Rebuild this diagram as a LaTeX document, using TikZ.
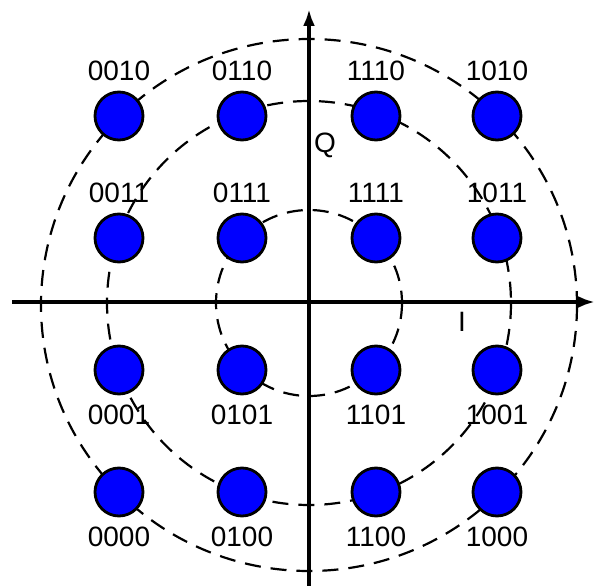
\documentclass[tikz,border=0pt]{standalone}
\usepackage{fontspec}
\setmainfont{Liberation Sans}
\usetikzlibrary{arrows.meta}
\begin{document}
\begin{tikzpicture}[x=1pt,y=-1pt,
  ring/.style={draw=black,line width=2.2pt,dash pattern=on 16pt off 10pt},
  axis/.style={draw=black,line width=3.4pt,-{Latex[length=17pt,width=12pt]}},
  dot/.style={circle,draw=black,line width=2.8pt,fill=blue,minimum size=48pt,inner sep=0pt},
  lbl/.style={font=\fontsize{28}{28}\selectfont,inner sep=0pt}]
\useasboundingbox (0,0) rectangle (595,586);
\coordinate (O) at (309,303);
\coordinate (xs) at (12,302);
\coordinate (xe) at (595,302);
\coordinate (ys) at (309,586);
\coordinate (ye) at (309,9);
% rings
\draw[ring] (309,305) ellipse [x radius=268, y radius=266];
\draw[ring] (O) circle [radius=202];
\draw[ring] (O) circle [radius=93];
% axes
\draw[axis] (xs) -- (xe);
\draw[axis] (ys) -- (ye);
\node[lbl] (Q) at (325,145) {Q};
\node[lbl] (I) at (462,322) {I};
% points
\foreach \x/\a in {119/00,242/01,376/11,497/10}{
  \foreach \y/\b/\ly in {116/10/71,238/11/193,370/01/415,492/00/537}{
    \node[dot] (p\a\b) at (\x,\y) {};
    \node[lbl] (l\a\b) at (\x,\ly) {\a\b};
  }
}
\end{tikzpicture}
\end{document}
